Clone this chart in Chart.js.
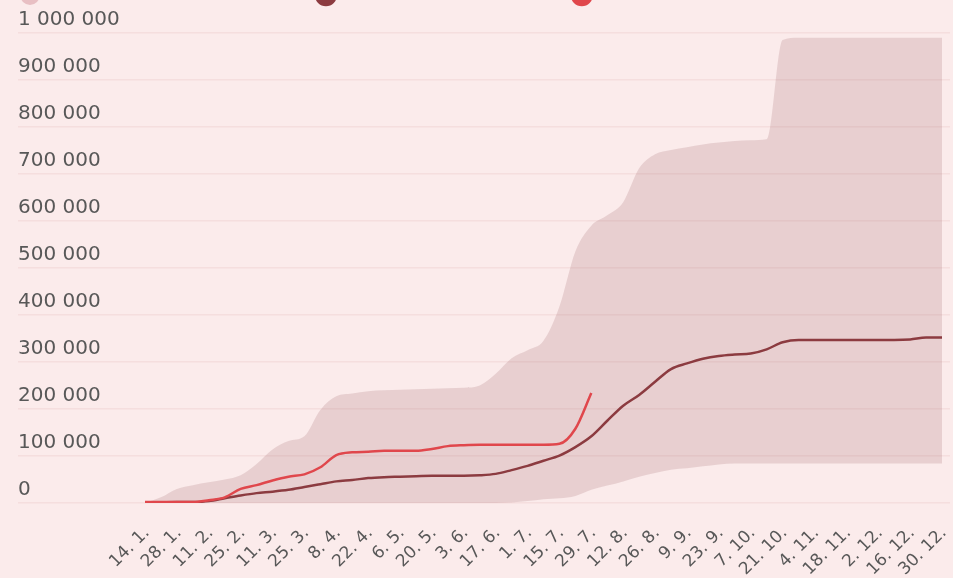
<!DOCTYPE html>
<html>
<head>
<meta charset="utf-8">
<script src="https://cdn.jsdelivr.net/npm/chart.js@4/dist/chart.umd.min.js"></script>
<style>
  html, body { margin: 0; padding: 0; background: #fbebeb; overflow: hidden; }
  body { width: 953px; height: 578px; }
  #wrap { width: 953px; height: 578px; overflow: hidden; }
  canvas { display: block; margin-top: -17px; }
</style>
</head>
<body>
<div id="wrap"><canvas id="myChart" width="953" height="595"></canvas></div>
<script>
// weekly dates, labelled every second week
const dates = [
  '14. 1.', '21. 1.', '28. 1.', '4. 2.', '11. 2.', '18. 2.', '25. 2.', '4. 3.', '11. 3.', '18. 3.',
  '25. 3.', '1. 4.', '8. 4.', '15. 4.', '22. 4.', '29. 4.', '6. 5.', '13. 5.', '20. 5.', '27. 5.',
  '3. 6.', '10. 6.', '17. 6.', '24. 6.', '1. 7.', '8. 7.', '15. 7.', '22. 7.', '29. 7.', '5. 8.',
  '12. 8.', '19. 8.', '26. 8.', '2. 9.', '9. 9.', '16. 9.', '23. 9.', '30. 9.', '7. 10.', '14. 10.',
  '21. 10.', '28. 10.', '4. 11.', '11. 11.', '18. 11.', '25. 11.', '2. 12.', '9. 12.', '16. 12.', '23. 12.',
  '30. 12.'
];

const rangeMax = [
  0, 12000, 30000, 38000, 44000, 50000, 59000, 83000, 114000, 132000,
  142000, 198000, 227000, 233000, 238000, 240000, 241000, 242000, 243000, 244000,
  245000, 250000, 275000, 308000, 325000, 345000, 418000, 535000, 590000, 612000,
  640000, 712000, 742000, 751000, 757000, 763000, 767000, 770000, 772000, 774000,
  985000, 990000, 990000, 990000, 990000, 990000, 990000, 990000, 990000, 990000,
  990000
];

const rangeMin = [
  0, 0, 0, 0, 0, 0, 0, 0, 0, 0,
  0, 0, 0, 0, 0, 0, 0, 0, 0, 0,
  0, 0, 0, 1000, 4000, 8000, 10000, 15000, 28000, 37000,
  46000, 56000, 64000, 71000, 74000, 78000, 82000, 84000, 84000, 84000,
  84000, 84000, 84000, 84000, 84000, 84000, 84000, 84000, 84000, 84000,
  84000
];

const median = [
  0, 1000, 2000, 2000, 4000, 10000, 16000, 21000, 24000, 28000,
  34000, 40000, 46000, 49000, 53000, 55000, 56000, 57000, 58000, 58000,
  58000, 59000, 62000, 70000, 79000, 90000, 101000, 119000, 142000, 175000,
  207000, 230000, 258000, 285000, 297000, 307000, 313000, 316000, 318000, 327000,
  342000, 347000, 347000, 347000, 347000, 347000, 347000, 347000, 348000, 352000,
  352000
];

const current = [
  2000, 2000, 2000, 2000, 6000, 12000, 30000, 38000, 48000, 56000,
  61000, 76000, 102000, 108000, 109000, 111000, 111000, 111000, 115000, 121000,
  123000, 124000, 124000, 124000, 124000, 124000, 126000, 158000, 234000
];

const seriesNames = ['Rozmezí min–max v letech 2010–2022', 'Medián hodnot v letech 2010–22', '2023'];

const textColor = '#585858';
const gridColor = 'rgba(210, 150, 150, 0.14)';
const bandColor = 'rgba(165, 110, 115, 0.22)';
const darkRed = '#8c3b40';
const brightRed = '#e0474c';

function fmt(v) {
    return String(v).replace(/\B(?=(\d{3})+(?!\d))/g, ' ');
}

// legend sits partly above the visible area, fix its height
const legendHeight = {
    id: 'legendHeight',
    beforeInit(chart) {
        const fit = chart.legend.fit;
        chart.legend.fit = function () {
            fit.bind(chart.legend)();
            this.height = 50;
        };
    }
};

const ctx = document.getElementById('myChart').getContext('2d');

new Chart(ctx, {
    type: 'line',
    data: {
        labels: dates,
        datasets: [
            {
                label: seriesNames[0],
                data: rangeMax,
                fill: '+1',
                backgroundColor: bandColor,
                borderWidth: 0,
                pointRadius: 0,
                pointBackgroundColor: '#e8bfc3',
                pointBorderColor: '#e8bfc3',
                cubicInterpolationMode: 'monotone',
                order: 3
            },
            {
                label: 'min',
                data: rangeMin,
                fill: false,
                backgroundColor: bandColor,
                borderWidth: 0,
                pointRadius: 0,
                cubicInterpolationMode: 'monotone',
                order: 3
            },
            {
                label: seriesNames[1],
                data: median,
                borderColor: darkRed,
                backgroundColor: darkRed,
                pointBackgroundColor: darkRed,
                pointBorderColor: darkRed,
                borderWidth: 2.5,
                pointRadius: 0,
                cubicInterpolationMode: 'monotone',
                order: 1
            },
            {
                label: seriesNames[2],
                data: current,
                borderColor: brightRed,
                backgroundColor: brightRed,
                pointBackgroundColor: brightRed,
                pointBorderColor: brightRed,
                borderWidth: 2.5,
                pointRadius: 0,
                cubicInterpolationMode: 'monotone',
                order: 0
            }
        ]
    },
    options: {
        responsive: false,
        animation: false,
        devicePixelRatio: 1,
        layout: { padding: { left: 18, right: 3, top: 0, bottom: 0 } },
        plugins: {
            tooltip: { enabled: false },
            legend: {
                position: 'top',
                align: 'start',
                labels: {
                    usePointStyle: true,
                    pointStyle: 'circle',
                    boxWidth: 14,
                    boxHeight: 14,
                    padding: 5,
                    color: textColor,
                    font: { family: 'DejaVu Sans', size: 14 },
                    filter: item => item.text !== 'min',
                    sort: (a, b) => a.datasetIndex - b.datasetIndex
                }
            }
        },
        scales: {
            x: {
                grid: { display: false },
                border: { display: false },
                ticks: {
                    autoSkip: false,
                    minRotation: 45,
                    maxRotation: 45,
                    padding: 12,
                    labelOffset: 2,
                    color: textColor,
                    font: { family: 'DejaVu Sans', size: 17 },
                    callback: (value, index) => index % 2 === 0 ? dates[index] : ''
                },
                afterFit: scale => {
                    scale.height = 75;
                    scale.paddingLeft = 0;
                    scale.paddingRight = 0;
                }
            },
            y: {
                min: 0,
                max: 1000000,
                border: { display: false },
                grid: { color: gridColor, lineWidth: 1.5, tickLength: 127 },
                ticks: {
                    stepSize: 100000,
                    crossAlign: 'far',
                    labelOffset: -13,
                    color: textColor,
                    font: { family: 'DejaVu Sans', size: 20 },
                    callback: v => fmt(v)
                },
                afterFit: scale => { scale.width = 127; }
            },
            y2: {
                position: 'right',
                min: 0,
                max: 1000000,
                border: { display: false },
                grid: { color: gridColor, lineWidth: 1.5, tickLength: 8, drawOnChartArea: false },
                ticks: { stepSize: 100000, display: false },
                afterFit: scale => { scale.width = 8; }
            }
        }
    },
    plugins: [legendHeight]
});
</script>
</body>
</html>
